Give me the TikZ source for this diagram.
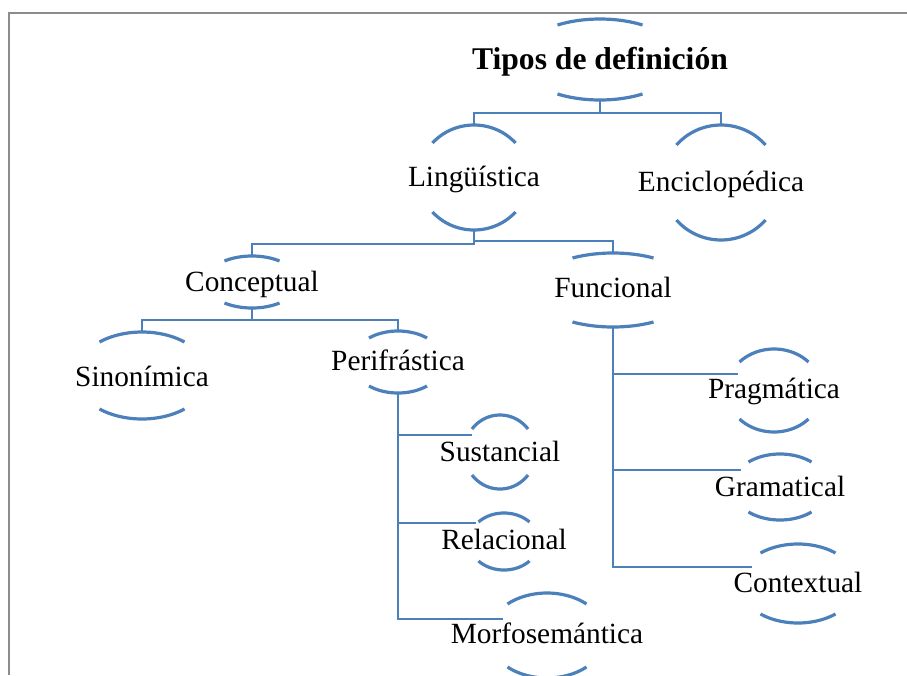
\documentclass[tikz,border=0pt]{standalone}
\usepackage{fontspec}
\setmainfont{Liberation Serif}
\definecolor{arcblue}{RGB}{76,128,186}
\definecolor{framegray}{RGB}{140,140,140}
% #1 name, #2 cx, #3 cy, #4 ry, #5 half width of arc, #6 sag, #7 baseline, #8 text
\newcommand\ringnode[8]{%
  \pgfmathsetmacro\myang{acos((#4-#6)/#4)}%
  \pgfmathsetmacro\myrx{#5/sin(\myang)}%
  \draw[ringarc] plot[domain=-\myang:\myang, samples=30, smooth] ({#2+\myrx*sin(\x)},{#3-#4*cos(\x)});
  \draw[ringarc] plot[domain=-\myang:\myang, samples=30, smooth] ({#2+\myrx*sin(\x)},{#3+#4*cos(\x)});
  \node[lbl] (#1) at (#2,#7) {#8};
  \coordinate (#1-t) at (#2,#3-#4);
  \coordinate (#1-b) at (#2,#3+#4);
}
\begin{document}
\begin{tikzpicture}[x=0.75pt,y=-0.75pt,
  ringarc/.style={draw=arcblue,line width=2.4pt},
  conn/.style={draw=arcblue,line width=2.1pt},
  lbl/.style={inner sep=0pt,anchor=base,font=\fontsize{22}{26}\selectfont}]
\useasboundingbox (0,0) rectangle (907,675);
\clip (0,0) rectangle (907,675);
\draw[framegray,line width=1.8pt] (9,675) -- (9,13) -- (907,13);

\ringnode{T}{600}{59.5}{40.5}{42.5}{6}{69}{\bfseries\fontsize{23.7}{28}\selectfont Tipos de definición}
\ringnode{L}{474}{177.5}{52.5}{41.5}{18}{186}{Lingüística}
\ringnode{E}{721}{182.5}{57.5}{44.5}{20}{191}{Enciclopédica}
\ringnode{C}{252}{282}{26}{27.5}{5}{291}{Conceptual}
\ringnode{F}{613}{290}{37}{40.5}{5}{297}{Funcional}
\ringnode{S}{142}{375.5}{43.5}{42.5}{10}{386}{Sinonímica}
\ringnode{P}{398}{362}{31}{29}{7}{370}{Perifrástica}
\ringnode{Su}{500}{452}{37}{28}{14}{461}{Sustancial}
\ringnode{Re}{504}{541.5}{28.5}{25.5}{9}{549}{Relacional}
\ringnode{Mo}{547}{635.5}{42.5}{39.5}{11}{643}{Morfosemántica}
\ringnode{Pr}{774}{390.5}{41.5}{34.5}{13}{398}{Pragmática}
\ringnode{Gr}{780}{487}{33}{31.5}{8}{496}{Gramatical}
\ringnode{Co}{798}{583.5}{39.5}{37.5}{9}{592}{Contextual}

\coordinate (Su-in) at (472,435);
\coordinate (Re-in) at (476,523);
\coordinate (Mo-in) at (503,619);
\coordinate (Pr-in) at (738,374);
\coordinate (Gr-in) at (741,470);
\coordinate (Co-in) at (752,567);

\draw[conn] (T-b) -- ++(0,13) -| (L-t);
\draw[conn] (T-b) -- ++(0,13) -| (E-t);
\draw[conn] (L-b) -- ++(0,14) -| (C-t);
\draw[conn] (L-b) -- ++(0,11) -| (F-t);
\draw[conn] (C-b) -- ++(0,12) -| (S-t);
\draw[conn] (C-b) -- ++(0,12) -| (P-t);
\draw[conn] (P-b) |- (Su-in);
\draw[conn] (P-b) |- (Re-in);
\draw[conn] (P-b) |- (Mo-in);
\draw[conn] (F-b) |- (Pr-in);
\draw[conn] (F-b) |- (Gr-in);
\draw[conn] (F-b) |- (Co-in);
\end{tikzpicture}
\end{document}
